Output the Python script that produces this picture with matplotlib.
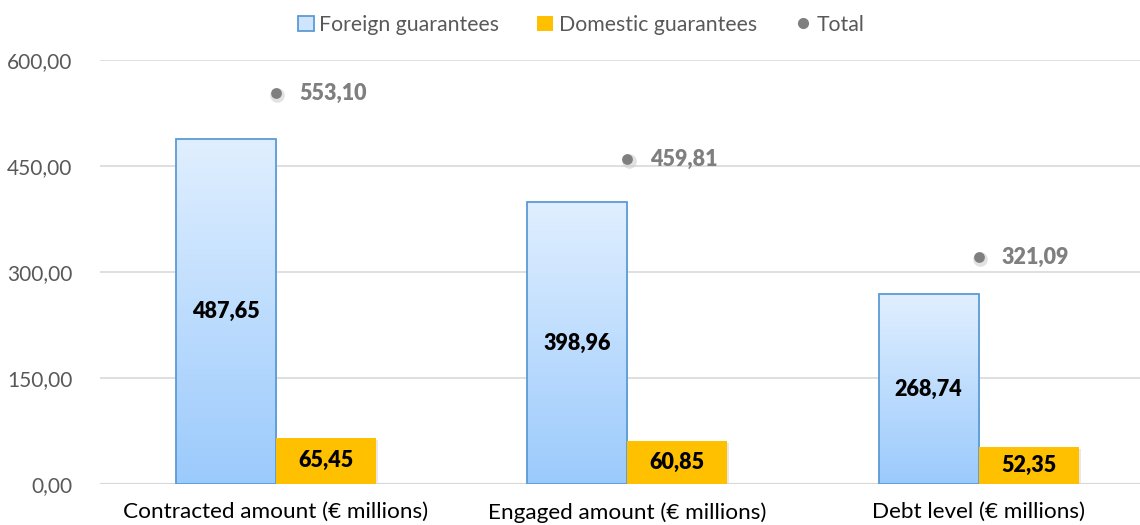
import matplotlib.pyplot as plt
import numpy as np
from matplotlib.lines import Line2D
from matplotlib.patches import Patch

plt.rcParams['font.family'] = ['Lato', 'DejaVu Sans']

categories = ['Contracted amount (€ millions)', 'Engaged amount (€ millions)', 'Debt level (€ millions)']
foreign = [487.65, 398.96, 268.74]
domestic = [65.45, 60.85, 52.35]
total = [553.10, 459.81, 321.09]
yticks = [0, 150, 300, 450, 600]


def fmt(v):
    return f'{v:.2f}'.replace('.', ',')


fig = plt.figure(figsize=(11.4, 5.25), dpi=100)
ax = fig.add_axes([100 / 1140, 41 / 525, 1054.5 / 1140, 424 / 525])

x = np.arange(len(categories))
w = 0.2845

# gradient for foreign bars
grad = np.linspace(0, 1, 256).reshape(-1, 1)
top = np.array([0xe0, 0xef, 0xff]) / 255
bot = np.array([0x9b, 0xca, 0xfc]) / 255
img = top + (bot - top) * grad[:, :, None]

bars_f = ax.bar(x - w / 2, foreign, w, facecolor='none', edgecolor='#5b9bd5', linewidth=1.3, zorder=3)
for b in bars_f:
    im = ax.imshow(img, extent=[b.get_x(), b.get_x() + b.get_width(), 0, b.get_height()],
                   aspect='auto', origin='upper', zorder=2)
    im.set_clip_path(b)

# soft shadow behind domestic bars
ax.bar(x + w / 2 + 0.006, domestic, w, bottom=-3, color='#d9d9d9', alpha=0.6, zorder=1.5)
bars_d = ax.bar(x + w / 2, domestic, w, color='#ffc000', zorder=3)

# total dots
ax.scatter(x + 0.004, np.array(total) - 3, s=110, color='#cfcfcf', alpha=0.6, zorder=3, linewidths=0)
ax.scatter(x, total, s=60, color='#7f7f7f', zorder=4, linewidths=0)

for i in range(len(categories)):
    ax.text(x[i] - w / 2, foreign[i] / 2, fmt(foreign[i]), ha='center', va='center',
            fontsize=15.5, fontweight='heavy', color='black', zorder=5)
    ax.text(x[i] + w / 2, domestic[i] / 2, fmt(domestic[i]), ha='center', va='center',
            fontsize=15.5, fontweight='heavy', color='black', zorder=5)
    ax.text(x[i] + 0.066, total[i], fmt(total[i]), ha='left', va='center',
            fontsize=15.5, fontweight='heavy', color='#7f7f7f', zorder=5)

ax.set_xlim(-0.5, 2.5)
ax.set_ylim(0, 600)
ax.set_yticks(yticks)
ax.set_yticklabels([fmt(v) for v in yticks], fontsize=15, color='#595959')
ax.set_xticks(x)
ax.set_xticklabels(categories, fontsize=16.2, color='black')
ax.tick_params(axis='both', length=0)
ax.tick_params(axis='y', pad=20)
ax.tick_params(axis='x', pad=13)
ax.grid(axis='y', color='#d9d9d9', linewidth=1.2, zorder=0)
for s in ax.spines.values():
    s.set_visible(False)
ax.axhline(0, color='#d0d0d0', linewidth=1.5, zorder=1)

handles = [
    Patch(facecolor='#cfe4fd', edgecolor='#5b9bd5', linewidth=1.3, label='Foreign guarantees'),
    Patch(facecolor='#ffc000', edgecolor='none', label='Domestic guarantees'),
    Line2D([], [], marker='o', linestyle='none', color='#7f7f7f', markersize=7, label='Total'),
]
fig.legend(handles=handles, loc='center', bbox_to_anchor=(581 / 1140, 1 - 25 / 525), ncol=3,
           frameon=False, fontsize=15.3, labelcolor='#595959', handlelength=0.75, handleheight=0.75,
           handletextpad=0.25, columnspacing=1.8)

fig.savefig('out.png', dpi=100)
